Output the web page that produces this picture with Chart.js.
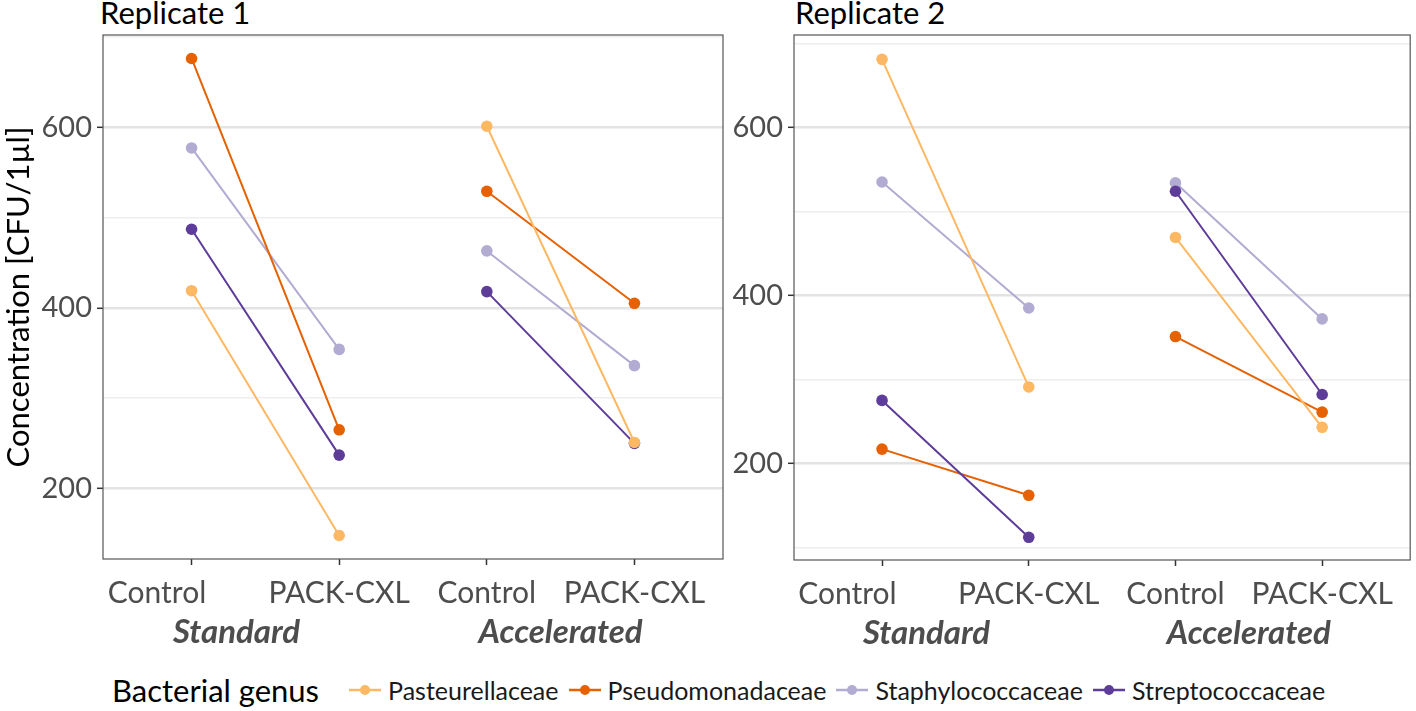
<!DOCTYPE html>
<html>
<head>
<meta charset="utf-8">
<script src="https://cdn.jsdelivr.net/npm/chart.js@4.4.1/dist/chart.umd.min.js"></script>
<style>
  body { margin: 0; background: #fff; width: 1416px; height: 711px; overflow: hidden; position: relative; font-family: Lato, sans-serif; }
  canvas { position: absolute; top: 0; }
  .title { position: absolute; top: -3px; font-size: 31px; line-height: 31px; color: #000; }
  #legend { position: absolute; left: 112px; top: 671px; display: flex; align-items: center; white-space: nowrap; }
  #legend .lab { font-size: 31px; color: #000; margin-right: 30px; }
  #legend .item { display: flex; align-items: center; font-size: 25px; color: #1a1a1a; margin-right: 10px; }
  #legend svg { margin-right: 7px; }
</style>
</head>
<body>
<div class="title" style="left:100px">Replicate 1</div>
<div class="title" style="left:795px">Replicate 2</div>
<canvas id="rep1" width="730" height="655" style="left:0"></canvas>
<canvas id="rep2" width="686" height="656" style="left:730px"></canvas>
<div id="legend"></div>
<script>
const conditions = ['Control', 'PACK-CXL', 'Control', 'PACK-CXL'];
const protocols = ['Standard', 'Accelerated'];
const genera = ['Pasteurellaceae', 'Pseudomonadaceae', 'Staphylococcaceae', 'Streptococcaceae'];
const colors = ['#fdb863', '#e66101', '#b2abd2', '#5e3c99'];
const drawOrder = [0, 2, 3, 1];

// values per genus: Standard Control, Standard PACK-CXL, Accelerated Control, Accelerated PACK-CXL
const rep1Pasteurellaceae = [419, 148, 601, 251];
const rep1Pseudomonadaceae = [676, 265, 529, 405];
const rep1Staphylococcaceae = [577, 354, 463, 336];
const rep1Streptococcaceae = [487, 237, 418, 250];

const rep2Pasteurellaceae = [681, 291, 469, 243];
const rep2Pseudomonadaceae = [217, 162, 351, 261];
const rep2Staphylococcaceae = [535, 385, 534, 372];
const rep2Streptococcaceae = [275, 112, 524, 282];

const rep1Grid = [200, 300, 400, 500, 600, 700];
const rep2Grid = [100, 200, 300, 400, 500, 600, 700];
const labelledTicks = [200, 400, 600];

Chart.defaults.font.family = 'Lato, sans-serif';
Chart.defaults.animation = false;

// the first label of each row sits left of its tick in the original figure
const pad = n => '\u00a0'.repeat(n);

const panelBorder = {
    id: 'panelBorder',
    afterDraw(chart) {
        const { ctx, chartArea: a } = chart;
        ctx.save();
        ctx.strokeStyle = '#555';
        ctx.lineWidth = 1.2;
        ctx.strokeRect(a.left, a.top, a.right - a.left, a.bottom - a.top);
        ctx.restore();
    }
};

function toPoints(vals) {
    return [
        { x: 1, y: vals[0] }, { x: 2, y: vals[1] },
        { x: 2.5, y: null },
        { x: 3, y: vals[2] }, { x: 4, y: vals[3] }
    ];
}

function makeChart(id, series, yMin, yMax, gridVals, yWidth, showTitle, padRight) {
    const datasets = series.map((vals, i) => ({
        label: genera[i],
        data: toPoints(vals),
        borderColor: colors[i],
        backgroundColor: colors[i],
        pointBackgroundColor: colors[i],
        pointBorderWidth: 0,
        pointRadius: 5.8,
        borderWidth: 2,
        spanGaps: false,
        order: drawOrder[i]
    }));

    return new Chart(document.getElementById(id), {
        type: 'line',
        data: { datasets },
        options: {
            responsive: false,
            layout: { padding: { top: 35, right: padRight, left: 0, bottom: 0 } },
            plugins: { legend: { display: false }, tooltip: { enabled: false } },
            scales: {
                x: {
                    type: 'linear', position: 'bottom', weight: 0,
                    min: 0.4, max: 4.6,
                    afterBuildTicks: s => { s.ticks = [1, 2, 3, 4].map(v => ({ value: v })); },
                    afterFit: s => { s.height = 45; },
                    ticks: {
                        autoSkip: false, maxRotation: 0, padding: 10,
                        color: '#4d4d4d', font: { size: 30 },
                        callback: v => v === 1 ? conditions[0] + pad(9) : conditions[v - 1]
                    },
                    grid: { drawOnChartArea: false, drawTicks: true, tickLength: 6, tickColor: '#333', tickWidth: 1.5 },
                    border: { display: false }
                },
                x2: {
                    type: 'linear', position: 'bottom', weight: 1,
                    min: 0.4, max: 4.6,
                    afterBuildTicks: s => { s.ticks = [1.5, 3.5].map(v => ({ value: v })); },
                    afterFit: s => { s.height = 51; },
                    ticks: {
                        autoSkip: false, maxRotation: 0, padding: 1,
                        color: '#4d4d4d', font: { size: 33, weight: 'bold', style: 'italic' },
                        callback: v => v === 1.5 ? protocols[0] + pad(8) : protocols[1]
                    },
                    grid: { display: false },
                    border: { display: false }
                },
                y: {
                    min: yMin, max: yMax,
                    afterBuildTicks: s => { s.ticks = gridVals.map(v => ({ value: v })); },
                    afterFit: s => { s.width = yWidth; },
                    ticks: {
                        padding: 5, color: '#4d4d4d', font: { size: 29 },
                        callback: v => labelledTicks.includes(v) ? String(v) : ''
                    },
                    grid: {
                        color: c => labelledTicks.includes(c.tick.value) ? '#e3e3e3' : '#eeeeee',
                        lineWidth: c => labelledTicks.includes(c.tick.value) ? 2.6 : 1.6,
                        tickLength: 6,
                        tickColor: c => labelledTicks.includes(c.tick.value) ? '#333' : 'rgba(0,0,0,0)',
                        tickWidth: 1.5
                    },
                    border: { display: false },
                    title: {
                        display: showTitle, text: 'Concentration [CFU/1µl]',
                        color: '#000', font: { size: 31 }, padding: 0
                    }
                }
            }
        },
        plugins: [panelBorder]
    });
}

makeChart('rep1',
    [rep1Pasteurellaceae, rep1Pseudomonadaceae, rep1Staphylococcaceae, rep1Streptococcaceae],
    122, 702, rep1Grid, 103, true, 7);
makeChart('rep2',
    [rep2Pasteurellaceae, rep2Pseudomonadaceae, rep2Staphylococcaceae, rep2Streptococcaceae],
    85, 710, rep2Grid, 64, false, 3);

// legend
const legend = document.getElementById('legend');
legend.innerHTML = '<span class="lab">Bacterial genus</span>' + genera.map((g, i) =>
    `<span class="item"><svg width="32" height="14"><line x1="0" y1="7" x2="32" y2="7" stroke="${colors[i]}" stroke-width="2.5"/><circle cx="16" cy="7" r="5" fill="${colors[i]}"/></svg>${g}</span>`
).join('');
</script>
</body>
</html>
